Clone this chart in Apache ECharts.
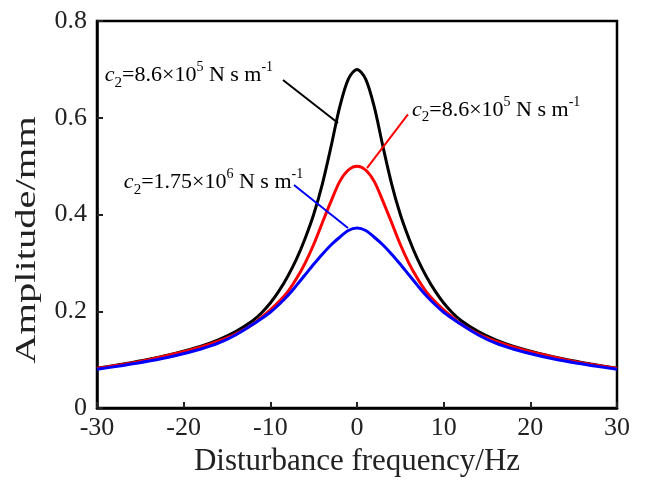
<!DOCTYPE html>
<html><head><meta charset="utf-8">
<script src="https://cdn.jsdelivr.net/npm/echarts@6/dist/echarts.min.js"></script>
<style>html,body{margin:0;padding:0;background:#fff}#c{width:648px;height:490px}</style>
</head><body><div id="c"></div>
<script>
const freq     = [-30,-27,-24,-21,-18,-16,-14,-12,-11,-10,-9,-8,-7,-6,-5,-4,-3,-2,-1,0,1,2,3,4,5,6,7,8,9,10,11,12,14,16,18,21,24,27,30];
const ampBlack = [0.082,0.091,0.101,0.113,0.128,0.141,0.158,0.181,0.197,0.217,0.242,0.272,0.307,0.350,0.400,0.463,0.540,0.622,0.680,0.700,0.680,0.622,0.540,0.463,0.400,0.350,0.307,0.272,0.242,0.217,0.197,0.181,0.158,0.141,0.128,0.113,0.101,0.091,0.082];
const ampRed   = [0.082,0.090,0.100,0.112,0.126,0.138,0.153,0.173,0.188,0.203,0.220,0.240,0.267,0.299,0.338,0.383,0.427,0.468,0.492,0.500,0.492,0.468,0.427,0.383,0.338,0.299,0.267,0.240,0.220,0.203,0.188,0.173,0.153,0.138,0.126,0.112,0.100,0.090,0.082];
const ampBlue  = [0.080,0.088,0.097,0.108,0.122,0.134,0.151,0.173,0.185,0.198,0.214,0.232,0.253,0.275,0.297,0.318,0.337,0.353,0.367,0.372,0.367,0.353,0.337,0.318,0.297,0.275,0.253,0.232,0.214,0.198,0.185,0.173,0.151,0.134,0.122,0.108,0.097,0.088,0.080];
const xTicks = [-30,-20,-10,0,10,20,30];
const yTicks = [0,0.2,0.4,0.6,0.8];
const xTitle = 'Disturbance frequency/Hz';
const yTitle = 'Amplitude/mm';

const FONT = 'Liberation Serif';
const chart = echarts.init(document.getElementById('c'));
const pairs = a => freq.map((f,i)=>[f,a[i]]);
function leader(color, from, to){
  return {silent:true, symbol:['none','none'], lineStyle:{color:color,width:2,type:'solid'}, label:{show:false},
    emphasis:{disabled:true}, data:[[{coord:from},{coord:to}]]};
}
chart.setOption({
  animation:false,
  backgroundColor:'#fff',
  grid:{left:97,right:31,top:21,bottom:82,show:true,borderColor:'#000',borderWidth:2.5},
  xAxis:{type:'value',min:-30,max:30,interval:10,
    name:xTitle,nameLocation:'middle',nameGap:32,
    nameTextStyle:{fontFamily:FONT,fontSize:31,color:'#222'},
    axisLine:{show:true,onZero:false,lineStyle:{color:'#000',width:2.5}},
    axisTick:{show:true,inside:true,length:6,lineStyle:{color:'#222',width:2}},
    axisLabel:{fontFamily:FONT,fontSize:26,color:'#222',margin:7,
      formatter:v=>xTicks.includes(v)?String(v):''},
    splitLine:{show:false}},
  yAxis:{type:'value',min:0,max:0.8,interval:0.2,
    axisLine:{show:true,onZero:false,lineStyle:{color:'#000',width:2.5}},
    axisTick:{show:true,inside:true,length:6,lineStyle:{color:'#222',width:2}},
    axisLabel:{fontFamily:FONT,fontSize:26,color:'#222',margin:10,
      formatter:v=>{const t=yTicks.find(k=>Math.abs(k-v)<1e-9);return t===undefined?'':String(t);}},
    splitLine:{show:false}},
  series:[
    {type:'line',data:pairs(ampBlack),smooth:0.3,showSymbol:false,lineStyle:{color:'#000',width:3},
      markLine:leader('#000',[-8.54,0.678],[-2.19,0.589])},
    {type:'line',data:pairs(ampRed),smooth:0.3,showSymbol:false,lineStyle:{color:'#ff0000',width:3},
      markLine:leader('#ff0000',[5.88,0.607],[1.15,0.496])},
    {type:'line',data:pairs(ampBlue),smooth:0.3,showSymbol:false,lineStyle:{color:'#0000ff',width:3},
      markLine:leader('#0000ff',[-7.27,0.461],[-1.04,0.372])}
  ]
});

const rich = {
  i:{fontFamily:FONT,fontSize:22,fontStyle:'italic',lineHeight:30,fill:'#000',color:'#000'},
  m:{fontFamily:FONT,fontSize:22,lineHeight:30,fill:'#000',color:'#000'},
  sub:{fontFamily:FONT,fontSize:15,lineHeight:15,verticalAlign:'bottom',fill:'#000',color:'#000'},
  sup:{fontFamily:FONT,fontSize:14,lineHeight:14,verticalAlign:'top',fill:'#000',color:'#000'}
};
const labels = [
  {text:'{i|c}{sub|2}{m|=8.6×10}{sup|5}{m| N s m}{sup|-1}', at:[-29.1,0.688]},
  {text:'{i|c}{sub|2}{m|=8.6×10}{sup|5}{m| N s m}{sup|-1}', at:[6.35,0.616]},
  {text:'{i|c}{sub|2}{m|=1.75×10}{sup|6}{m| N s m}{sup|-1}', at:[-26.9,0.467]}
];
const g = labels.map(l=>{
  const p = chart.convertToPixel({gridIndex:0}, l.at);
  return {type:'text',x:p[0],y:p[1],silent:true,
    style:{text:l.text,rich:rich,verticalAlign:'middle',align:'left',fill:'#000'}};
});
g.push({type:'text',x:27,y:240,rotation:Math.PI/2,scaleX:1.35,silent:true,
  style:{text:yTitle,font:'30px "Liberation Serif"',fill:'#222',align:'center',verticalAlign:'middle'}});
chart.setOption({graphic:g});
</script></body></html>
